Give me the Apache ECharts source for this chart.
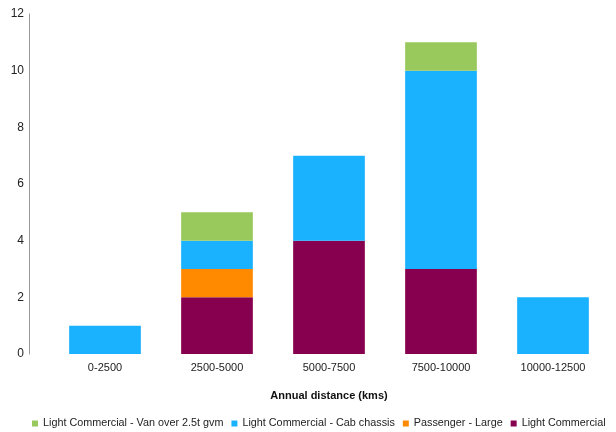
<!DOCTYPE html>
<html>
<head>
<meta charset="utf-8">
<script src="https://cdn.jsdelivr.net/npm/echarts@6/dist/echarts.min.js"></script>
<style>html,body{margin:0;padding:0;background:#fff;}#c{width:616px;height:432px;}</style>
</head>
<body>
<div id="c"></div>
<script>
var categories = ['0-2500', '2500-5000', '5000-7500', '7500-10000', '10000-12500'];
var lightCommercial = [0, 2, 4, 3, 0];
var passengerLarge = [0, 1, 0, 0, 0];
var cabChassis = [1, 1, 3, 7, 2];
var vanOver25 = [0, 1, 0, 1, 0];
var yTicks = [0, 2, 4, 6, 8, 10, 12];

var names = {
  lc: 'Light Commercial',
  pl: 'Passenger - Large',
  cab: 'Light Commercial - Cab chassis',
  van: 'Light Commercial - Van over 2.5t gvm'
};
var colors = { lc: '#86004f', pl: '#ff8a00', cab: '#1ab2ff', van: '#99c95c' };

function toData(arr) { return arr.map(function (v) { return v === 0 ? '-' : v; }); }

function mk(key, arr) {
  return {
    name: names[key], type: 'bar', stack: 'total', data: toData(arr),
    barCategoryGap: '36%',
    itemStyle: { color: colors[key] }
  };
}

var chart = echarts.init(document.getElementById('c'), null, { renderer: 'canvas' });
chart.setOption({
  animation: false,
  textStyle: { fontFamily: 'Liberation Sans, Arial, sans-serif' },
  grid: { left: 49, right: 7, top: 14, bottom: 78 },
  legend: {
    left: 27, top: 413, width: 2000,
    itemWidth: 6, itemHeight: 6, itemGap: 8,
    icon: 'rect',
    textStyle: { fontSize: 10.8, color: '#222', padding: [0, 0, 0, 0] },
    data: [names.van, names.cab, names.pl, names.lc]
  },
  xAxis: {
    type: 'category', data: categories,
    name: 'Annual distance (kms)', nameLocation: 'middle', nameGap: 36,
    nameTextStyle: { fontSize: 11, fontWeight: 'bold', color: '#111' },
    axisLine: { show: false }, axisTick: { show: false },
    axisLabel: { fontSize: 11, color: '#222', margin: 8 }
  },
  yAxis: {
    type: 'value', min: 0, max: 12, interval: 2, offset: 20,
    axisLine: { show: true, lineStyle: { color: '#999', width: 1 } },
    axisTick: { show: false },
    splitLine: { show: false },
    axisLabel: { fontSize: 12, color: '#222', margin: 5 }
  },
  series: [mk('lc', lightCommercial), mk('pl', passengerLarge), mk('cab', cabChassis), mk('van', vanOver25)]
});
</script>
</body>
</html>
